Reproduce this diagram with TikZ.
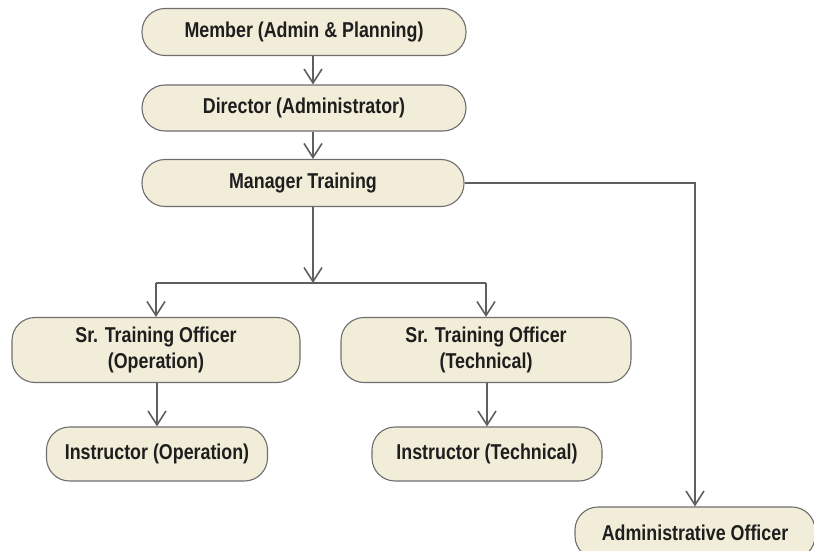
\documentclass[tikz,border=0pt]{standalone}
\usepackage{fontspec}
\setmainfont{Liberation Sans}[FakeStretch=0.83]
\usetikzlibrary{arrows.meta}
\definecolor{boxfill}{HTML}{F2EDD8}
\definecolor{boxline}{HTML}{6E6E6E}
\definecolor{linkline}{HTML}{5F5F5F}
\definecolor{labeltext}{HTML}{1E1E1E}

\begin{document}
\begin{tikzpicture}[
  x=1pt, y=-1pt,
  every node/.style = {draw=boxline, fill=boxfill, line width=1.1pt,
    rounded corners=23pt, align=center, inner sep=0pt,
    font=\bfseries\fontsize{21.5}{26}\selectfont, text=labeltext},
  link/.style = {draw=linkline, line width=1.6pt},
  arr/.style = {link, -{Straight Barb[length=14pt, width=18pt]}}]
  \clip (0,0) rectangle (814,551);
  \coordinate (tx) at (313,0);
  \coordinate (split) at (0,283);
  \node[minimum width=324pt, minimum height=47pt] (member) at (304,32) {Member (Admin \& Planning)};
  \node[minimum width=324pt, minimum height=46pt] (director) at (304,108) {Director (Administrator)};
  \node[minimum width=322pt, minimum height=47pt] (manager) at (303,183) {Manager Training};
  \node[minimum width=288pt, minimum height=65pt] (srop) at (156,350) {Sr. Training Officer\\(Operation)};
  \node[minimum width=290pt, minimum height=65pt] (srtech) at (486,350) {Sr. Training Officer\\(Technical)};
  \node[minimum width=221pt, minimum height=54pt] (insop) at (157,454) {Instructor (Operation)};
  \node[minimum width=230pt, minimum height=54pt] (instech) at (487,454) {Instructor (Technical)};
  \node[minimum width=240pt, minimum height=52pt] (admin) at (695,533) {Administrative Officer};

  \draw[arr] (member.south -| tx) -- (director.north -| tx);
  \draw[arr] (director.south -| tx) -- (manager.north -| tx);
  \draw[arr] (manager.south -| tx) -- (tx |- split);
  \draw[link] (srop.north |- split) -- (srtech.north |- split);
  \draw[arr] (srop.north |- split) -- (srop.north);
  \draw[arr] (srtech.north |- split) -- (srtech.north);
  \draw[arr] (srop.south -| insop) -- (insop.north);
  \draw[arr] (srtech.south -| instech) -- (instech.north);
  \draw[arr] (manager.east) -- (admin.north |- manager.east) -- (admin.north);
\end{tikzpicture}
\end{document}
